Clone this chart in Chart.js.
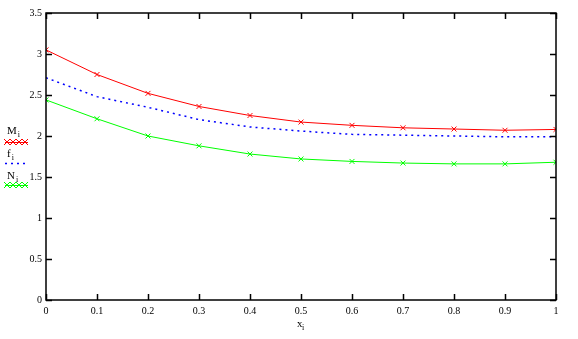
<!DOCTYPE html>
<html lang="en">
<head>
    <meta charset="UTF-8">
    <title>M, f, N vs x</title>
    <style>
        body { margin: 0; padding: 0; background: #ffffff; }
        #wrap { width: 578px; height: 339px; position: relative; }
    </style>
</head>
<body>
    <div id="wrap"><canvas id="myChart" width="578" height="339"></canvas></div>

    <script src="https://cdn.jsdelivr.net/npm/chart.js"></script>
    <script>
        // x values and the three curves
        const xValues = [0, 0.1, 0.2, 0.3, 0.4, 0.5, 0.6, 0.7, 0.8, 0.9, 1];
        const mValues = [3.05, 2.75, 2.52, 2.36, 2.25, 2.17, 2.13, 2.10, 2.085, 2.07, 2.08];
        const fValues = [2.71, 2.48, 2.35, 2.20, 2.11, 2.06, 2.02, 2.01, 2.00, 1.99, 1.99];
        const nValues = [2.44, 2.21, 2.00, 1.88, 1.78, 1.72, 1.69, 1.67, 1.66, 1.66, 1.68];

        const xTicks = [0, 0.1, 0.2, 0.3, 0.4, 0.5, 0.6, 0.7, 0.8, 0.9, 1];
        const yTicks = [0, 0.5, 1, 1.5, 2, 2.5, 3, 3.5];

        const FONT = '"Liberation Serif", "DejaVu Serif", serif';

        const toPoints = (ys) => xValues.map((x, i) => ({ x: x, y: ys[i] }));

        // boxed frame with inward ticks, plus the left-side key and axis title
        const framePlugin = {
            id: 'frame',
            afterDraw(chart) {
                const c = chart.ctx;
                const a = chart.chartArea;
                const xs = chart.scales.x;
                const ys = chart.scales.y;
                c.save();
                c.strokeStyle = '#000';
                c.lineWidth = 1.5;
                c.strokeRect(a.left, a.top, a.right - a.left, a.bottom - a.top);
                c.beginPath();
                xTicks.forEach(v => {
                    const px = Math.round(xs.getPixelForValue(v)) + 0.5;
                    c.moveTo(px, a.bottom); c.lineTo(px, a.bottom - 6);
                    c.moveTo(px, a.top); c.lineTo(px, a.top + 6);
                });
                yTicks.forEach(v => {
                    const py = Math.round(ys.getPixelForValue(v)) + 0.5;
                    c.moveTo(a.left, py); c.lineTo(a.left + 6, py);
                    c.moveTo(a.right, py); c.lineTo(a.right - 6, py);
                });
                c.stroke();

                // axis title x with subscript i
                c.fillStyle = '#000';
                c.font = '11px ' + FONT;
                c.textBaseline = 'alphabetic';
                c.textAlign = 'left';
                c.fillText('x', 297, 327);
                c.font = '8px ' + FONT;
                c.fillText('i', 302, 330);

                // key on the left
                const key = [
                    { name: 'M', y: 134, ly: 142, color: '#ff0000', dash: [], marks: true },
                    { name: 'f', y: 157, ly: 163, color: '#0000ff', dash: [2, 4], marks: false },
                    { name: 'N', y: 179, ly: 185, color: '#00ff00', dash: [], marks: true }
                ];
                key.forEach(k => {
                    c.fillStyle = '#000';
                    c.font = '11px ' + FONT;
                    c.fillText(k.name, 7, k.y);
                    const w = c.measureText(k.name).width;
                    c.font = '8px ' + FONT;
                    c.fillText('i', 7 + w + 1, k.y + 3);
                    c.strokeStyle = k.color;
                    c.lineWidth = k.marks ? 1 : 1.5;
                    c.setLineDash(k.dash);
                    c.beginPath();
                    c.moveTo(5, k.ly + 0.5); c.lineTo(28, k.ly + 0.5);
                    c.stroke();
                    c.setLineDash([]);
                    if (k.marks) {
                        c.lineWidth = 1;
                        [7, 13, 19, 25].forEach(mx => {
                            c.beginPath();
                            c.moveTo(mx - 3, k.ly - 3); c.lineTo(mx + 3, k.ly + 3);
                            c.moveTo(mx + 3, k.ly - 3); c.lineTo(mx - 3, k.ly + 3);
                            c.stroke();
                        });
                    }
                });
                c.restore();
            }
        };

        const ctx = document.getElementById('myChart').getContext('2d');

        const chart = new Chart(ctx, {
            type: 'line',
            data: {
                datasets: [
                    {
                        label: 'M',
                        data: toPoints(mValues),
                        borderColor: '#ff0000',
                        backgroundColor: '#ff0000',
                        borderWidth: 1,
                        pointStyle: 'crossRot',
                        pointRadius: 3.5,
                        pointBorderWidth: 1,
                        tension: 0
                    },
                    {
                        label: 'f',
                        data: toPoints(fValues),
                        borderColor: '#0000ff',
                        borderWidth: 1.5,
                        borderDash: [2, 4],
                        pointRadius: 0,
                        tension: 0
                    },
                    {
                        label: 'N',
                        data: toPoints(nValues),
                        borderColor: '#00ff00',
                        backgroundColor: '#00ff00',
                        borderWidth: 1,
                        pointStyle: 'crossRot',
                        pointRadius: 3.5,
                        pointBorderWidth: 1,
                        tension: 0
                    }
                ]
            },
            options: {
                responsive: false,
                animation: false,
                layout: { padding: { left: 0, right: 22, top: 13, bottom: 0 } },
                plugins: {
                    legend: { display: false },
                    tooltip: { enabled: false }
                },
                scales: {
                    x: {
                        type: 'linear',
                        min: 0,
                        max: 1,
                        afterFit: (s) => { s.height = 39; },
                        afterBuildTicks: (s) => { s.ticks = xTicks.map(v => ({ value: v })); },
                        grid: { display: false, drawTicks: false },
                        border: { display: false },
                        ticks: {
                            color: '#000',
                            padding: 5,
                            maxRotation: 0,
                            font: { family: FONT, size: 10 },
                            callback: (v) => String(v)
                        }
                    },
                    y: {
                        type: 'linear',
                        min: 0,
                        max: 3.5,
                        afterFit: (s) => { s.width = 46; },
                        afterBuildTicks: (s) => { s.ticks = yTicks.map(v => ({ value: v })); },
                        grid: { display: false, drawTicks: false },
                        border: { display: false },
                        ticks: {
                            color: '#000',
                            padding: 4,
                            font: { family: FONT, size: 10 },
                            callback: (v) => String(v)
                        }
                    }
                }
            },
            plugins: [framePlugin]
        });
    </script>
</body>
</html>
